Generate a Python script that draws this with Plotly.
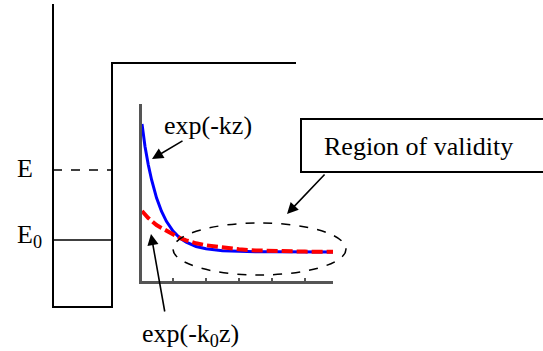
import plotly.graph_objects as go

# Decay curves inside the barrier (position z, relative amplitude)
z_vals = [0.06, 0.15, 0.25, 0.35, 0.5, 0.65, 0.8, 1.0, 1.2, 1.4, 1.7, 2.0, 2.5, 3.0, 3.5, 4.0, 5.0, 5.85]
exp_kz = [0.887, 0.761, 0.657, 0.572, 0.470, 0.394, 0.337, 0.282, 0.244, 0.219, 0.195, 0.182,
          0.171, 0.167, 0.165, 0.165, 0.164, 0.164]
exp_k0z = [0.395, 0.372, 0.356, 0.340, 0.316, 0.300, 0.284, 0.260, 0.244, 0.230, 0.213, 0.202,
           0.188, 0.179, 0.173, 0.170, 0.166, 0.165]
z_ticks = [1, 2, 3, 4, 5]

label_E = "E"
label_E0 = "E<sub>0</sub>"
label_kz = "exp(-kz)"
label_k0z = "exp(-k<sub>0</sub>z)"
label_region = "Region of validity"

W, H = 543, 351
FONT = "Liberation Serif, Times New Roman, serif"

fig = go.Figure()

fig.add_trace(go.Scatter(x=z_vals, y=exp_kz, mode="lines", xaxis="x2", yaxis="y2",
                         line=dict(color="#0000ff", width=3), showlegend=False))
fig.add_trace(go.Scatter(x=z_vals, y=exp_k0z, mode="lines", xaxis="x2", yaxis="y2",
                         line=dict(color="#ff0000", width=4, dash="11px,4px"), showlegend=False))

black = dict(color="black", width=2)
shapes = [
    # potential well / barrier outline
    dict(type="path", path="M53,4 L53,307 L112,307 L112,63 L296,63", line=black),
    # energy levels
    dict(type="line", x0=53, x1=112, y0=170, y1=170, line=dict(color="black", width=1.5, dash="dash")),
    dict(type="line", x0=53, x1=112, y0=240, y1=240, line=dict(color="black", width=1.5)),
    # label box
    dict(type="rect", x0=301, x1=545, y0=119, y1=172, line=black, fillcolor="white"),
    # region ellipse
    dict(type="circle", x0=173, x1=346, y0=223, y1=275,
         line=dict(color="black", width=1.5, dash="dash")),
]
for s in shapes:
    s.setdefault("xref", "x")
    s.setdefault("yref", "y")
    s["layer"] = "above" if s["type"] == "circle" else "below"
fig.update_layout(shapes=shapes)

txt = dict(family=FONT, size=26, color="black")
annotations = [
    dict(x=15, y=168, text=label_E, xanchor="left", yanchor="middle", showarrow=False, font=txt),
    dict(x=15, y=236, text=label_E0, xanchor="left", yanchor="middle", showarrow=False, font=txt),
    dict(x=162, y=125, text=label_kz, xanchor="left", yanchor="middle", showarrow=False, font=txt),
    dict(x=322, y=146, text=label_region, xanchor="left", yanchor="middle", showarrow=False, font=txt),
    dict(x=140, y=335, text=label_k0z, xanchor="left", yanchor="middle", showarrow=False, font=txt),
    # arrows
    dict(x=152, y=159, ax=184, ay=140, axref="x", ayref="y", text="", showarrow=True,
         arrowhead=2, arrowsize=1.4, arrowwidth=1.6, arrowcolor="black"),
    dict(x=151, y=234, ax=165, ay=313, axref="x", ayref="y", text="", showarrow=True,
         arrowhead=2, arrowsize=1.4, arrowwidth=1.6, arrowcolor="black"),
    dict(x=287, y=214, ax=326, ay=173, axref="x", ayref="y", text="", showarrow=True,
         arrowhead=2, arrowsize=1.4, arrowwidth=1.6, arrowcolor="black"),
]
for a in annotations:
    a["xref"] = "x"
    a["yref"] = "y"
fig.update_layout(annotations=annotations)

axis_gray = "#555555"
fig.update_layout(
    width=W, height=H,
    margin=dict(l=0, r=0, t=0, b=0),
    paper_bgcolor="white", plot_bgcolor="rgba(0,0,0,0)",
    showlegend=False,
    xaxis=dict(range=[0, W], domain=[0, 1], visible=False, fixedrange=True),
    yaxis=dict(range=[H, 0], domain=[0, 1], visible=False, fixedrange=True),
    xaxis2=dict(domain=[142 / W, 333 / W], range=[0.06, 5.85], anchor="y2",
                showline=True, linecolor=axis_gray, linewidth=2.5, showgrid=False, zeroline=False,
                tickvals=z_ticks, ticks="inside", ticklen=3, tickwidth=1.5, tickcolor=axis_gray,
                showticklabels=False),
    yaxis2=dict(domain=[1 - 281 / H, 1 - 104 / H], range=[0, 1], anchor="x2",
                showline=True, linecolor=axis_gray, linewidth=2.5, showgrid=False, zeroline=False,
                ticks="", showticklabels=False),
)

fig.write_html("out.html")
